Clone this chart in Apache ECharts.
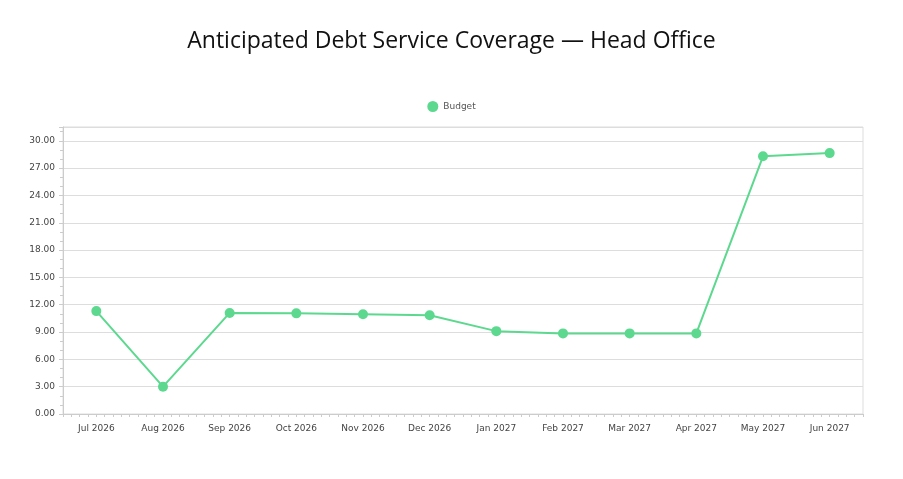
<!DOCTYPE html>
<html>
<head>
<meta charset="utf-8">
<script src="https://cdn.jsdelivr.net/npm/echarts@6/dist/echarts.min.js"></script>
<style>
  html, body { margin: 0; padding: 0; background: #fff; }
  #chart { width: 903px; height: 479px; }
</style>
</head>
<body>
<div id="chart"></div>
<script>
const months = ['Jul 2026', 'Aug 2026', 'Sep 2026', 'Oct 2026', 'Nov 2026', 'Dec 2026',
  'Jan 2027', 'Feb 2027', 'Mar 2027', 'Apr 2027', 'May 2027', 'Jun 2027']
const budget = [11.3, 3.0, 11.1, 11.05, 10.95, 10.85, 9.1, 8.85, 8.85, 8.85, 28.3, 28.65]

const chart = echarts.init(document.getElementById('chart'))
const labelFont = 'DejaVu Sans'
const option = {
  animation: false,
  title: {
    text: 'Anticipated Debt Service Coverage \u2014 Head Office',
    left: 'center',
    top: 25,
    textStyle: { fontFamily: 'Open Sans', fontSize: 23, fontWeight: 'normal', color: '#111' }
  },
  legend: {
    data: ['Budget'],
    top: 101,
    left: 'center',
    icon: 'circle',
    itemWidth: 11,
    itemHeight: 11,
    itemGap: 5,
    padding: [0, 5],
    textStyle: { fontFamily: labelFont, fontSize: 9, color: '#555' }
  },
  grid: {
    left: 63,
    right: 40,
    top: 127,
    bottom: 65,
    show: true,
    borderColor: '#ddd',
    borderWidth: 1
  },
  xAxis: [
    {
      type: 'category',
      data: months,
      boundaryGap: true,
      axisLine: { lineStyle: { color: '#ccc' } },
      axisTick: { alignWithLabel: true, length: 5, lineStyle: { color: '#ccc' } },
      axisLabel: { fontFamily: labelFont, fontSize: 9, color: '#444', margin: 10 }
    },
    {
      // minor ticks along the bottom edge
      type: 'value',
      position: 'bottom',
      min: 0,
      max: 12,
      interval: 0.5,
      axisLine: { show: false },
      axisLabel: { show: false },
      splitLine: { show: false },
      axisTick: { show: true, length: 3, lineStyle: { color: '#ccc' } },
      minorTick: { show: true, splitNumber: 4, length: 3, lineStyle: { color: '#ccc' } }
    }
  ],
  yAxis: {
    type: 'value',
    min: 0,
    max: function (v) { return v.max * 1.1 },
    interval: 3,
    axisLine: { show: true, lineStyle: { color: '#ccc' } },
    axisTick: { show: true, length: 4, lineStyle: { color: '#ccc' } },
    minorTick: { show: true, splitNumber: 3, length: 3, lineStyle: { color: '#ccc' } },
    splitLine: { lineStyle: { color: '#ddd' } },
    axisLabel: {
      fontFamily: labelFont,
      fontSize: 9,
      color: '#444',
      margin: 8,
      showMaxLabel: false,
      formatter: function (v) { return v.toFixed(2) }
    }
  },
  series: [
    {
      name: 'Budget',
      type: 'line',
      xAxisIndex: 0,
      data: budget,
      symbol: 'circle',
      symbolSize: 10,
      itemStyle: { color: '#5cd98f' },
      lineStyle: { color: '#5cd98f', width: 2 }
    }
  ]
}
chart.setOption(option)
</script>
</body>
</html>
